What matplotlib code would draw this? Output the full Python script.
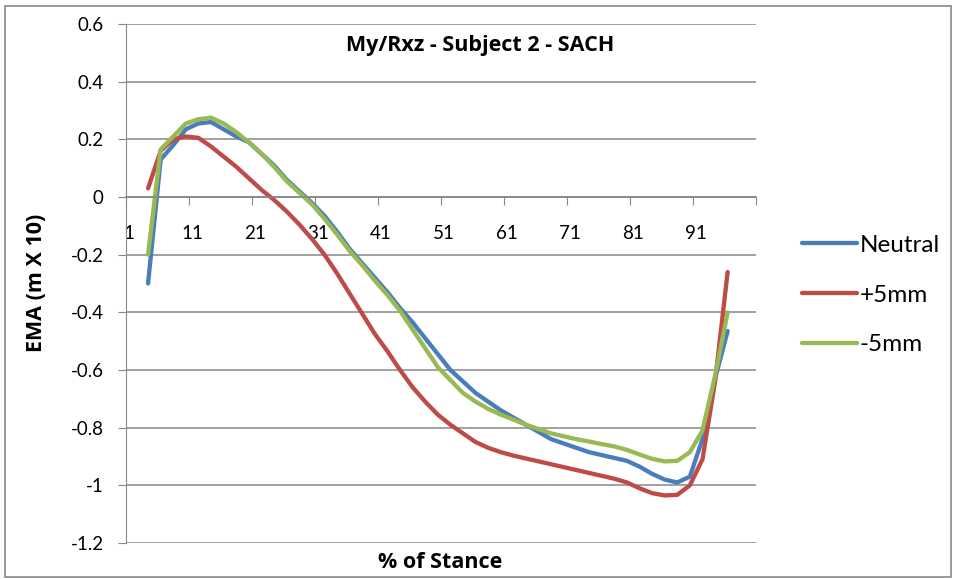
import numpy as np
import matplotlib
matplotlib.use("Agg")
from matplotlib import pyplot as plt
from matplotlib.patches import Rectangle

plt.rcParams["font.family"] = ["Lato", "DejaVu Sans"]

# % of stance (category position) for each sample
stance = [4, 6, 8, 10, 12, 14, 16, 18, 20, 22, 24, 26, 28, 30, 32, 34, 36, 38,
          40, 42, 44, 46, 48, 50, 52, 54, 56, 58, 60, 62, 64, 66, 68, 70, 72,
          74, 76, 78, 80, 82, 84, 86, 88, 90, 92, 94, 96]

neutral = [-0.30, 0.13, 0.18, 0.235, 0.255, 0.26, 0.235, 0.21, 0.19, 0.15,
           0.11, 0.06, 0.02, -0.02, -0.065, -0.12, -0.18, -0.23, -0.28, -0.33,
           -0.385, -0.435, -0.49, -0.545, -0.60, -0.64, -0.68, -0.71, -0.74,
           -0.765, -0.79, -0.815, -0.84, -0.855, -0.87, -0.885, -0.895, -0.905,
           -0.915, -0.935, -0.96, -0.98, -0.99, -0.97, -0.84, -0.63, -0.465]

plus5 = [0.03, 0.16, 0.20, 0.21, 0.205, 0.175, 0.14, 0.105, 0.065, 0.025,
         -0.01, -0.05, -0.095, -0.145, -0.20, -0.265, -0.335, -0.405, -0.475,
         -0.535, -0.60, -0.66, -0.71, -0.755, -0.79, -0.82, -0.85, -0.87,
         -0.885, -0.897, -0.907, -0.917, -0.927, -0.937, -0.947, -0.957,
         -0.967, -0.977, -0.99, -1.01, -1.027, -1.035, -1.033, -1.0, -0.91,
         -0.64, -0.26]

minus5 = [-0.20, 0.165, 0.21, 0.255, 0.27, 0.275, 0.255, 0.225, 0.19, 0.15,
          0.105, 0.055, 0.015, -0.025, -0.075, -0.13, -0.187, -0.237, -0.29,
          -0.34, -0.395, -0.46, -0.525, -0.59, -0.635, -0.68, -0.71, -0.735,
          -0.755, -0.772, -0.79, -0.805, -0.82, -0.83, -0.84, -0.848, -0.857,
          -0.865, -0.877, -0.893, -0.908, -0.917, -0.915, -0.885, -0.81,
          -0.62, -0.40]

series = [("Neutral", neutral, "#4A7EBB"),
          ("+5mm", plus5, "#BE4B48"),
          ("-5mm", minus5, "#98B954")]

y_ticks = [0.6, 0.4, 0.2, 0, -0.2, -0.4, -0.6, -0.8, -1, -1.2]
y_labels = ["0.6", "0.4", "0.2", "0", "-0.2", "-0.4", "-0.6", "-0.8", "-1", "-1.2"]
x_labels = ["1", "11", "21", "31", "41", "51", "61", "71", "81", "91"]

grey = "#878787"
bold_font = dict(family=["Open Sans", "DejaVu Sans"], fontweight="bold", fontsize=15.5)

fig = plt.figure(figsize=(9.56, 5.79), dpi=100)
fig.patches.append(Rectangle((0.005, 0.004), 0.99, 0.985, transform=fig.transFigure,
                             fill=False, edgecolor=grey, linewidth=1.2))
ax = fig.add_axes([126 / 956, 1 - 543 / 579, 630 / 956, 519 / 579])

for name, vals, col in series:
    ax.plot(stance, vals, color=col, lw=3.1, label=name,
            solid_capstyle="round", solid_joinstyle="round")

ax.set_xlim(0.5, 100.5)
ax.set_ylim(-1.2, 0.6)

ax.set_yticks(y_ticks)
ax.set_yticklabels(y_labels, fontsize=13.5)
ax.yaxis.grid(True, color=grey, lw=1.1)
ax.set_axisbelow(True)

ax.spines["top"].set_visible(False)
ax.spines["right"].set_visible(False)
ax.spines["left"].set_color(grey)
ax.spines["bottom"].set_position(("data", 0))
ax.spines["bottom"].set_color(grey)
ax.spines["bottom"].set_linewidth(1.1)

# tick marks between category groups, labels on the categories
ax.set_xticks(np.arange(0.5, 101, 10))
ax.set_xticklabels([])
ax.set_xticks([int(s) for s in x_labels], minor=True)
ax.set_xticklabels(x_labels, minor=True, fontsize=13.5)
ax.tick_params(axis="x", which="major", direction="out", length=6, color=grey)
ax.tick_params(axis="x", which="minor", length=0, pad=20)
ax.tick_params(axis="y", direction="out", length=6, color=grey, pad=10)

fig.text(480 / 956, 1 - 45 / 579, "My/Rxz - Subject 2 - SACH",
         ha="center", va="center", **bold_font)
fig.text(440 / 956, 1 - 563 / 579, "% of Stance",
         ha="center", va="center", **bold_font)
fig.text(37 / 956, 1 - 283 / 579, "EMA (m X 10)",
         ha="center", va="center", rotation=90, **bold_font)

ax.legend(loc="center left", bbox_to_anchor=(792 / 956, 1 - 295 / 579),
          bbox_transform=fig.transFigure, frameon=False, fontsize=17.5,
          handlelength=2.27, handletextpad=0.1, labelspacing=1.18,
          borderaxespad=0)

fig.savefig("out.png", dpi=100)
